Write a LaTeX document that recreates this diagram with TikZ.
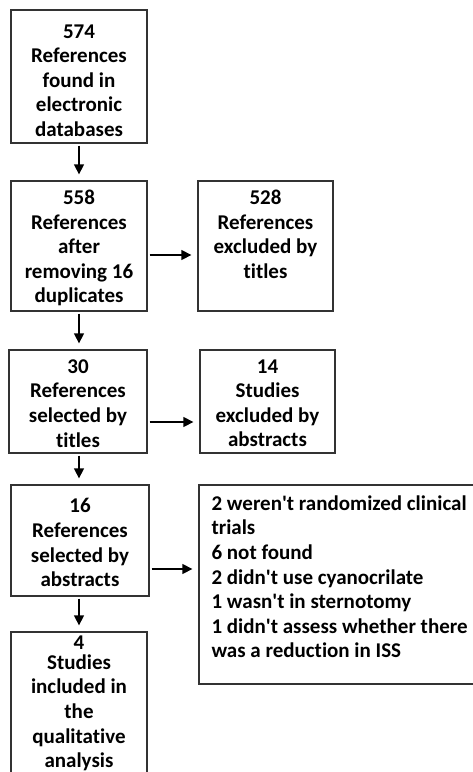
\documentclass[tikz,border=0pt]{standalone}
\usepackage{fontspec}
\setmainfont{Carlito}[Ligatures={NoCommon}]
\usetikzlibrary{arrows.meta}
\tikzset{
  box/.style={draw=black!80, line width=1.3pt, inner sep=0pt},
  txt/.style={inner sep=0pt, align=center, font=\bfseries\fontsize{21}{24.6}\selectfont},
  arr/.style={-{Triangle[length=10pt,width=10pt]}, line width=1.3pt, shorten <=2pt, shorten >=6pt}
}
\begin{document}
\begin{tikzpicture}[x=1pt,y=-1pt]
\useasboundingbox (0,0) rectangle (473,772);
\node[box, minimum width=136pt, minimum height=133pt] (b1) at (79,76.5) {};
\node[box, minimum width=136pt, minimum height=130pt] (b2) at (79,246) {};
\node[box, minimum width=135pt, minimum height=130pt] (b3) at (265.5,246) {};
\node[box, minimum width=138pt, minimum height=103pt] (b4) at (78,401.5) {};
\node[box, minimum width=135pt, minimum height=103pt] (b5) at (267.5,401.5) {};
\node[box, minimum width=138pt, minimum height=111pt] (b6) at (80,540.5) {};
\node[box, minimum width=281pt, minimum height=199pt] (b7) at (339.5,584.5) {};
\node[box, minimum width=136pt, minimum height=160pt] (b8) at (79,712) {};
\node[txt, anchor=north, yshift=-15pt] (t1) at (b1.north) {574\\References\\found in\\electronic\\databases};
\node[txt, anchor=north, yshift=-9.5pt] (t2) at (b2.north) {558\\References\\after\\removing 16\\duplicates};
\node[txt, anchor=north, yshift=-9.5pt] (t3) at (b3.north) {528\\References\\excluded by\\titles};
\node[txt, anchor=north, yshift=-10pt] (t4) at (b4.north) {30\\References\\selected by\\titles};
\node[txt, anchor=north, yshift=-10pt] (t5) at (b5.north) {14\\Studies\\excluded by\\abstracts};
\node[txt, anchor=north, yshift=-14pt] (t6) at (b6.north) {16\\References\\selected by\\abstracts};
\node[txt, align=left, anchor=north west, xshift=13pt, yshift=-11pt] (t7) at (b7.north west) {2 weren\textquotesingle t randomized clinical\\trials\\6 not found\\2 didn\textquotesingle t use cyanocrilate\\1 wasn\textquotesingle t in sternotomy\\1 didn\textquotesingle t assess whether there\\was a reduction in ISS};
\node[txt, anchor=north, yshift=-4.5pt] (t8) at (b8.north) {4\\[-5pt]Studies\\included in\\the\\qualitative\\analysis};
\coordinate (r2) at (0,255);
\coordinate (r3) at (0,422);
\coordinate (r4) at (0,569);
\draw[arr] (b1.south) -- (b2.north);
\draw[arr] (b2.south) -- (b2.south |- b4.north);
\draw[arr] (b4.south -| b2.south) -- (b2.south |- b6.north);
\draw[arr] (b6.south -| b8.north) -- (b8.north);
\draw[arr] (b2.east |- r2) -- (b3.west |- r2);
\draw[arr] (b4.east |- r3) -- (b5.west |- r3);
\draw[arr] (b6.east |- r4) -- (b7.west |- r4);
\end{tikzpicture}
\end{document}
